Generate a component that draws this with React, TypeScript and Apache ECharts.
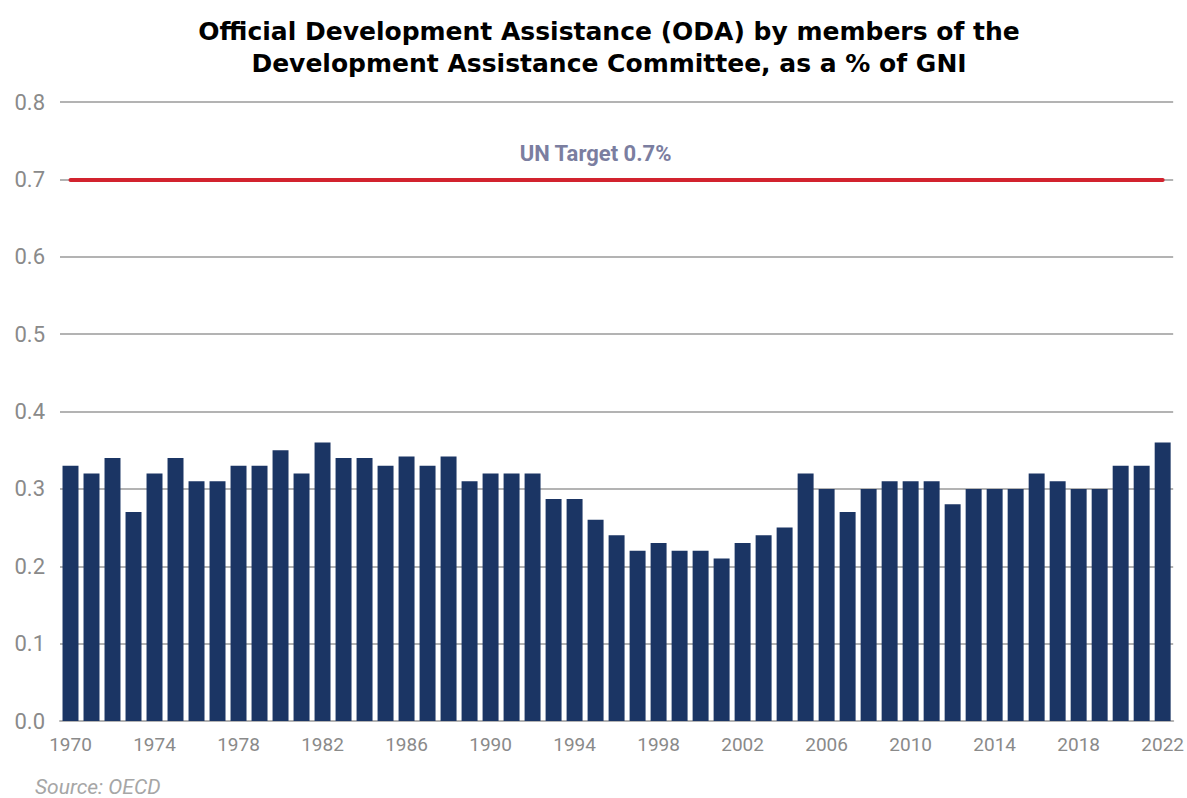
import React, { useEffect, useRef } from "react";
import * as echarts from "echarts";

const years: string[] = [];
for (let y = 1970; y <= 2022; y++) years.push(String(y));

const odaValues = [
  0.33, 0.32, 0.34, 0.27, 0.32, 0.34, 0.31, 0.31, 0.33, 0.33,
  0.35, 0.32, 0.36, 0.34, 0.34, 0.33, 0.342, 0.33, 0.342, 0.31,
  0.32, 0.32, 0.32, 0.287, 0.287, 0.26, 0.24, 0.22, 0.23, 0.22,
  0.22, 0.21, 0.23, 0.24, 0.25, 0.32, 0.30, 0.27, 0.30, 0.31,
  0.31, 0.31, 0.28, 0.30, 0.30, 0.30, 0.32, 0.31, 0.30, 0.30,
  0.33, 0.33, 0.36,
];

const unTarget = 0.7;
const unTargetLabel = "UN Target 0.7%";
const titleLines = [
  "Official Development Assistance (ODA) by members of the",
  "Development Assistance Committee, as a % of GNI",
];
const sourceText = "Source: OECD";

export default function App() {
  const ref = useRef<HTMLDivElement>(null);
  useEffect(() => {
    if (!ref.current) return;
    const chart = echarts.init(ref.current, undefined, { renderer: "svg" });
    const titleStyle = {
      fontFamily: "DejaVu Sans",
      fontWeight: "bold",
      fontSize: 25,
      lineHeight: 32,
      color: "#000000",
    };
    chart.setOption({
      animation: false,
      backgroundColor: "#ffffff",
      title: titleLines.map((t, i) => ({
        text: t,
        left: 609,
        textAlign: "center",
        top: 15 + i * 32,
        padding: 0,
        textStyle: titleStyle,
      })),
      graphic: [
        {
          type: "text",
          left: 35,
          top: 776,
          style: {
            text: sourceText,
            fontFamily: "Roboto",
            fontStyle: "italic",
            fontSize: 21,
            fill: "#a6a6a6",
          },
        },
      ],
      grid: { left: 60, right: 11, top: 102, bottom: 77, containLabel: false },
      xAxis: {
        type: "category",
        data: years,
        boundaryGap: true,
        axisLine: { show: true, lineStyle: { color: "#b3b3b3", width: 2 } },
        axisTick: { show: false },
        axisLabel: {
          interval: 3,
          color: "#8a8a8a",
          fontFamily: "Roboto",
          fontSize: 19,
          margin: 14,
        },
      },
      yAxis: {
        type: "value",
        min: 0,
        max: 0.8,
        interval: 0.1,
        axisLine: { show: false },
        axisTick: { show: false },
        axisLabel: {
          color: "#8a8a8a",
          fontFamily: "Roboto",
          fontSize: 22,
          margin: 15,
          formatter: (v: number) => v.toFixed(1),
        },
        splitLine: { lineStyle: { color: "#b3b3b3", width: 2 } },
      },
      series: [
        {
          type: "bar",
          data: odaValues,
          barCategoryGap: "24%",
          itemStyle: { color: "#1b3564" },
          markLine: {
            silent: true,
            symbol: "none",
            lineStyle: { color: "#d2232e", width: 4, type: "solid", cap: "round" },
            label: {
              show: true,
              position: "middle",
              formatter: unTargetLabel,
              color: "#7b7ea0",
              fontFamily: "Roboto",
              fontWeight: "bold",
              fontSize: 22,
              distance: 15,
              offset: [-21, 0],
            },
            data: [
              [
                { coord: [years[0], unTarget] },
                { coord: [years[years.length - 1], unTarget] },
              ],
            ],
          },
        },
      ],
    });
    return () => chart.dispose();
  }, []);
  return (
    <div
      ref={ref}
      style={{ position: "fixed", left: 0, top: 0, width: 1187, height: 798 }}
    />
  );
}
